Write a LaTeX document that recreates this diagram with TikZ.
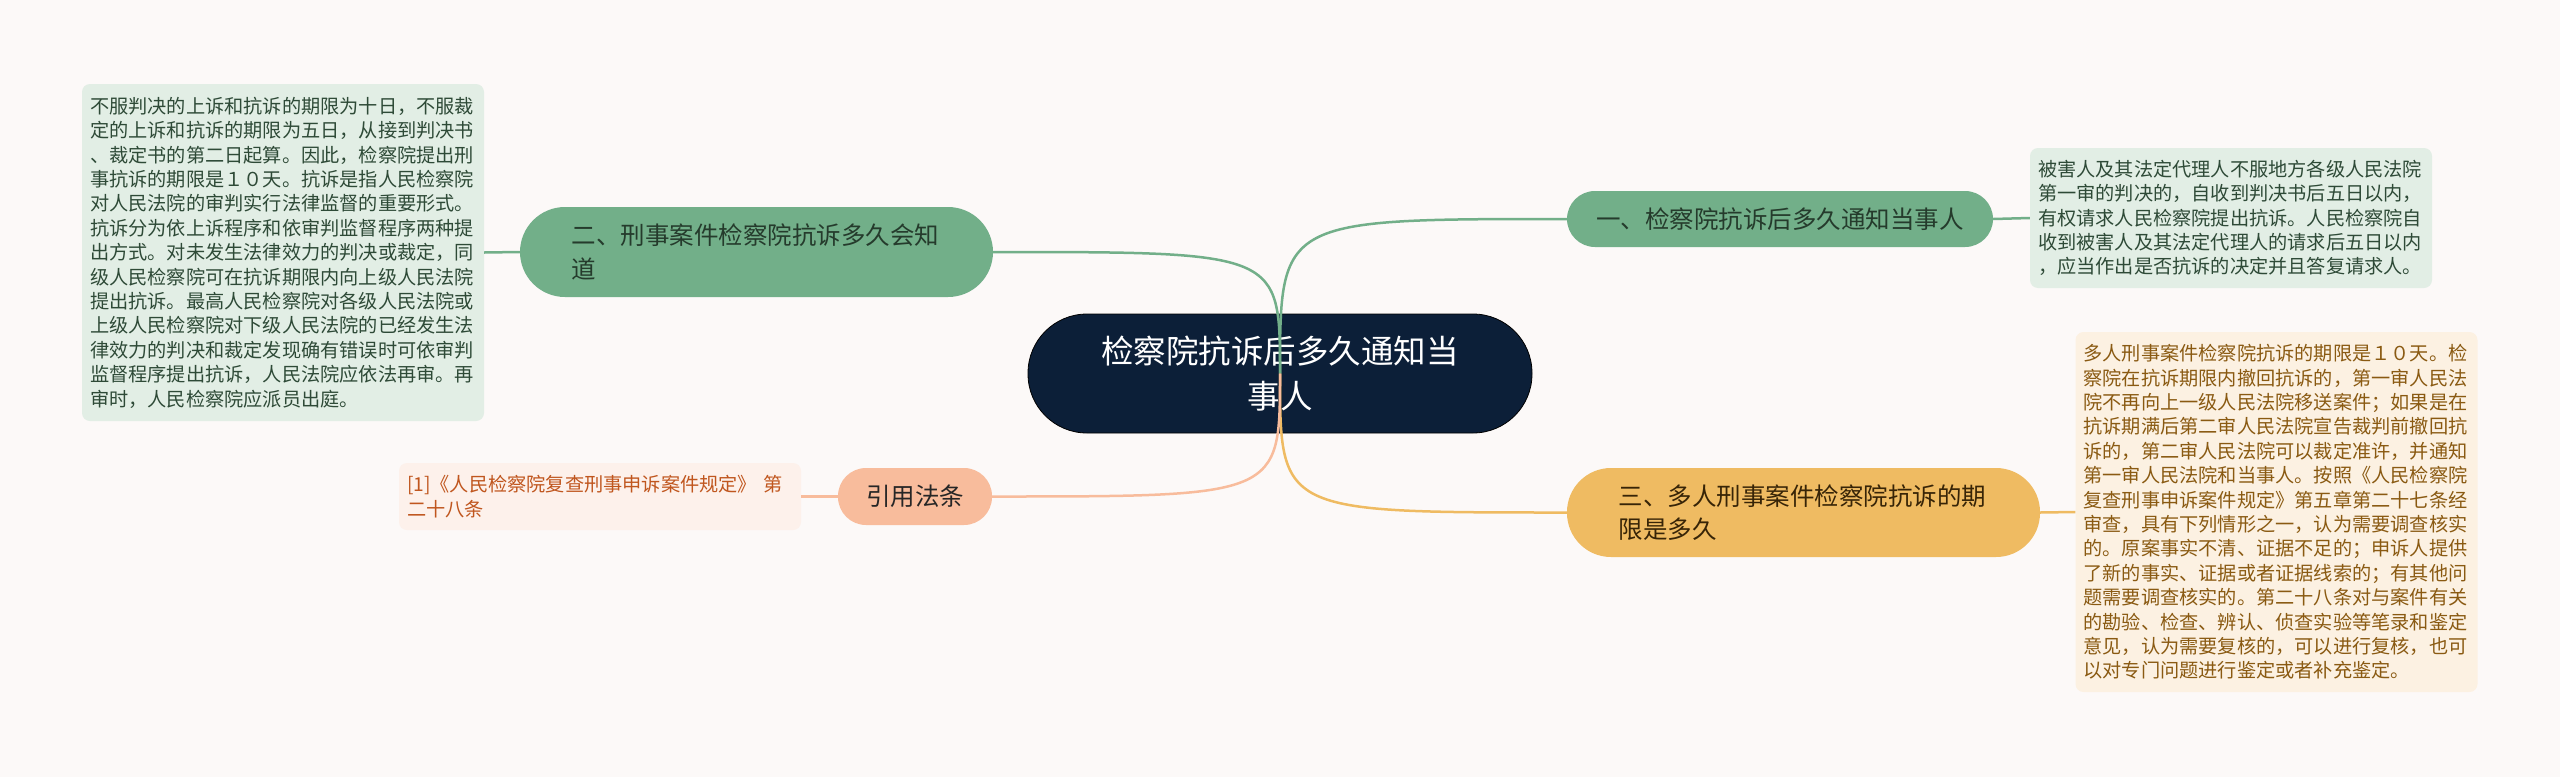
\documentclass[tikz,border=0pt]{standalone}
\usepackage{fontspec}
\setmainfont{Noto Sans CJK SC}
\definecolor{bgpaper}{HTML}{FCF9F8}
\definecolor{rootfill}{HTML}{0C1F38}
\definecolor{greenfill}{HTML}{72AF89}
\definecolor{greenbox}{HTML}{E2EEE5}
\definecolor{greentext}{HTML}{2E4A37}
\definecolor{yellowfill}{HTML}{EFBB62}
\definecolor{yellowbox}{HTML}{FCF1E2}
\definecolor{yellowtext}{HTML}{8A5A12}
\definecolor{peachfill}{HTML}{F8BC9C}
\definecolor{peachbox}{HTML}{FDF1EB}
\definecolor{peachtext}{HTML}{C0561E}
\newcommand{\branch}[2]
{\draw[#1,line width=2.5pt] (root.center) .. controls (root.center |- #2) .. (#2);
}
\newcommand{\twig}[3]
{\draw[#1,line width=2.5pt] (#2) -- (#3);
}
\tikzset{
  topic/.style={inner sep=0pt, font=\fontsize{24.5}{33.5}\selectfont},
  detail/.style={rounded corners=8pt, inner xsep=8pt, inner ysep=0pt, text width=386pt, align=left, font=\fontsize{19.2}{24.4}\selectfont}
}
\begin{document}
\begin{tikzpicture}[x=1pt,y=-1pt]
		\useasboundingbox[fill=bgpaper] (0,0) rectangle (2560,777);
		% root
		\node[fill=rootfill, draw=black, line width=0.8pt, rounded corners=59pt, minimum width=504pt, minimum height=119pt, text width=362pt, align=center, text=white, font=\fontsize{32.5}{45}\selectfont] (root) at (1280,373.5) {检察院抗诉后多久通知当\\事人};
		% topics
		\node[topic, fill=greenfill, text=greentext!80!black, rounded corners=28pt, minimum width=426pt, minimum height=56pt] (one) at (1780,219) {一、检察院抗诉后多久通知当事人};
		\node[topic, fill=greenfill, text=greentext!80!black, rounded corners=45pt, minimum width=473pt, minimum height=90pt, text width=370pt, align=left] (two) at (756.5,252) {二、刑事案件检察院抗诉多久会知\\道};
		\node[topic, fill=yellowfill, text=yellowtext!40!black, rounded corners=44pt, minimum width=473pt, minimum height=89pt, text width=370pt, align=left] (three) at (1803.5,512.5) {三、多人刑事案件检察院抗诉的期\\限是多久};
		\node[topic, fill=peachfill, text=black!85, rounded corners=28pt, minimum width=154pt, minimum height=57pt] (cite) at (915,496.5) {引用法条};
		% details
		\node[detail, fill=greenbox, text=greentext, minimum height=337pt] (twotext) at (283,252.5) {不服判决的上诉和抗诉的期限为十日，不服裁\\定的上诉和抗诉的期限为五日，从接到判决书\\、裁定书的第二日起算。因此，检察院提出刑\\事抗诉的期限是１０天。抗诉是指人民检察院\\对人民法院的审判实行法律监督的重要形式。\\抗诉分为依上诉程序和依审判监督程序两种提\\出方式。对未发生法律效力的判决或裁定，同\\级人民检察院可在抗诉期限内向上级人民法院\\提出抗诉。最高人民检察院对各级人民法院或\\上级人民检察院对下级人民法院的已经发生法\\律效力的判决和裁定发现确有错误时可依审判\\监督程序提出抗诉，人民法院应依法再审。再\\审时，人民检察院应派员出庭。};
		\node[detail, fill=greenbox, text=greentext, minimum height=140pt] (onetext) at (2231,218) {被害人及其法定代理人不服地方各级人民法院\\第一审的判决的，自收到判决书后五日以内，\\有权请求人民检察院提出抗诉。人民检察院自\\收到被害人及其法定代理人的请求后五日以内\\，应当作出是否抗诉的决定并且答复请求人。};
		\node[detail, fill=yellowbox, text=yellowtext, minimum height=360pt] (threetext) at (2276.5,512) {多人刑事案件检察院抗诉的期限是１０天。检\\察院在抗诉期限内撤回抗诉的，第一审人民法\\院不再向上一级人民法院移送案件；如果是在\\抗诉期满后第二审人民法院宣告裁判前撤回抗\\诉的，第二审人民法院可以裁定准许，并通知\\第一审人民法院和当事人。按照《人民检察院\\复查刑事申诉案件规定》第五章第二十七条经\\审查，具有下列情形之一，认为需要调查核实\\的。原案事实不清、证据不足的；申诉人提供\\了新的事实、证据或者证据线索的；有其他问\\题需要调查核实的。第二十八条对与案件有关\\的勘验、检查、辨认、侦查实验等笔录和鉴定\\意见，认为需要复核的，可以进行复核，也可\\以对专门问题进行鉴定或者补充鉴定。};
		\node[detail, fill=peachbox, text=peachtext, minimum height=67pt] (citetext) at (600,496.5) {[1]《人民检察院复查刑事申诉案件规定》 第\\二十八条};
		% connectors
		\branch{greenfill}{one.west}
		\branch{greenfill}{two.east}
		\branch{yellowfill}{three.west}
		\branch{peachfill}{cite.east}
		\twig{greenfill}{one.east}{onetext.west}
		\twig{greenfill}{two.west}{twotext.east}
		\twig{yellowfill}{three.east}{threetext.west}
		\twig{peachfill}{cite.west}{citetext.east}
\end{tikzpicture}
\end{document}
